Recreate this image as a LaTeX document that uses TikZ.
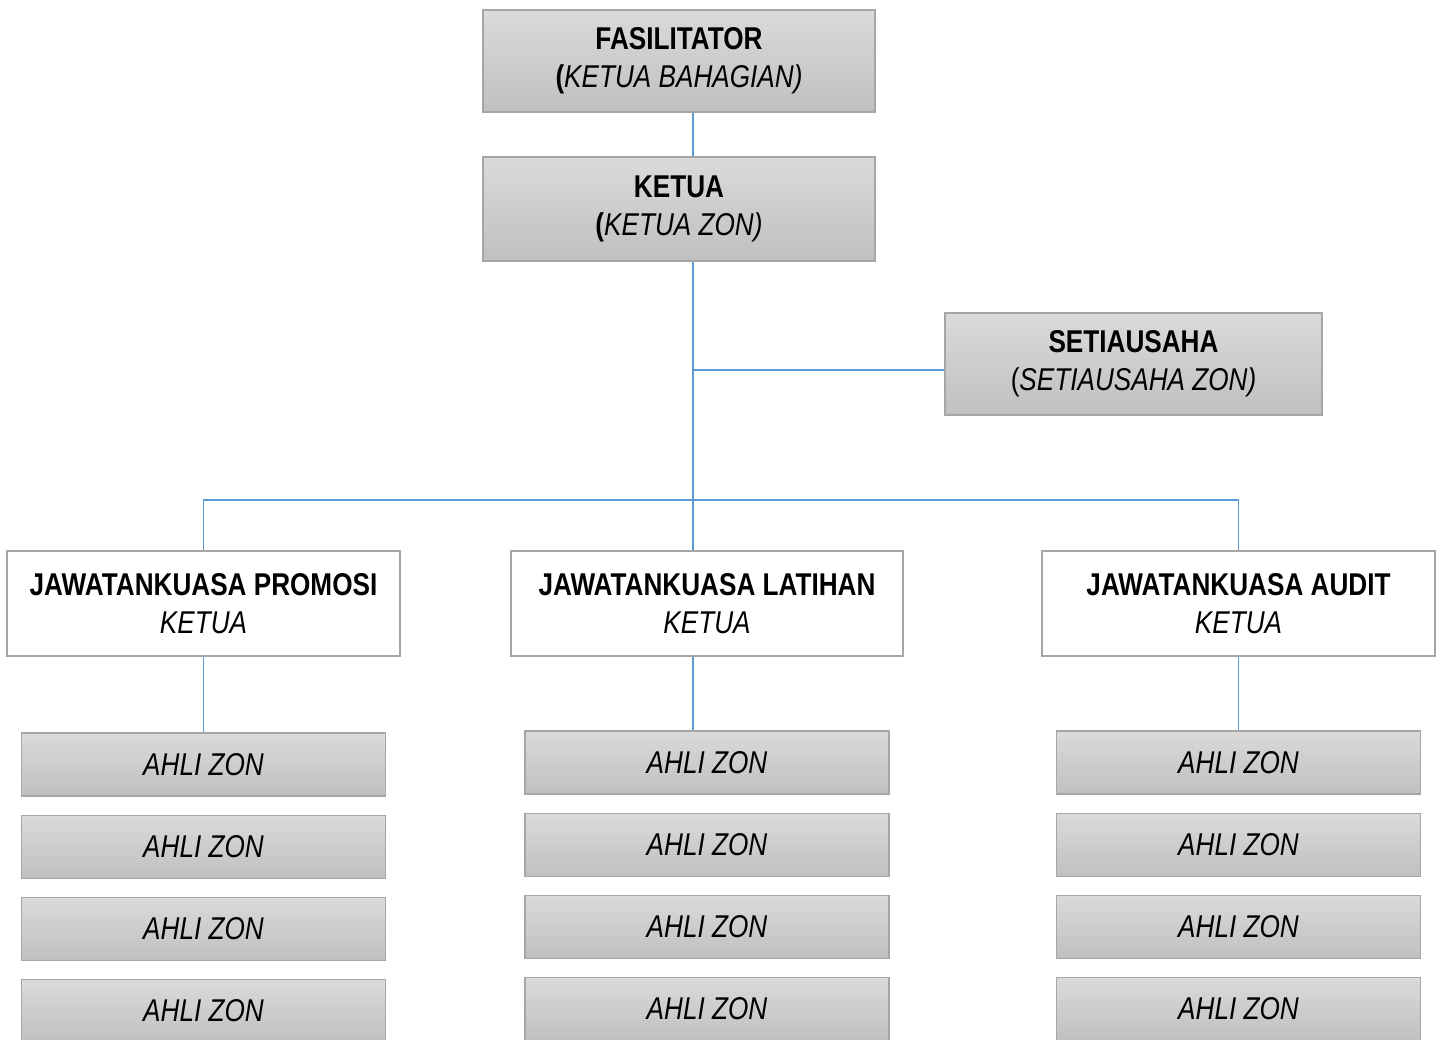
\documentclass[tikz,border=0pt]{standalone}
\usepackage{fontspec}
\setmainfont{Liberation Sans}[FakeStretch=0.83]
\definecolor{linkblue}{RGB}{91,155,213}
\definecolor{boxedge}{RGB}{166,166,166}
\definecolor{gtop}{RGB}{218,218,218}
\definecolor{gbot}{RGB}{192,192,192}
\tikzset{
  greybox/.style={draw=boxedge, line width=1.3pt, top color=gtop, bottom color=gbot,
    align=center, inner sep=0pt, font=\fontsize{31.5}{38}\selectfont},
  whitebox/.style={draw=boxedge, line width=2pt, fill=white,
    align=center, inner sep=0pt, font=\fontsize{31.5}{38}\selectfont},
  link/.style={draw=linkblue, line width=1.1pt}
}
\begin{document}
\begin{tikzpicture}[x=1pt,y=-1pt]
\useasboundingbox (0,0) rectangle (1439,1040);
\clip (0,0) rectangle (1439,1040);
\node[greybox, minimum width=392pt, minimum height=102pt] (fas) at (679,61) {\textbf{FASILITATOR}\\\textbf{(}\textit{KETUA BAHAGIAN)}};
\node[greybox, minimum width=392pt, minimum height=104pt] (ket) at (679,209) {\textbf{KETUA}\\\textbf{(}\textit{KETUA ZON)}};
\node[greybox, minimum width=377pt, minimum height=102pt] (set) at (1133.5,364) {\textbf{SETIAUSAHA}\\(\textit{SETIAUSAHA ZON)}};
\node[whitebox, minimum width=393pt, minimum height=105pt] (jp) at (203.5,603.5) {\textbf{JAWATANKUASA PROMOSI}\\\textit{KETUA}};
\node[whitebox, minimum width=392pt, minimum height=105pt] (jl) at (707,603.5) {\textbf{JAWATANKUASA LATIHAN}\\\textit{KETUA}};
\node[whitebox, minimum width=393pt, minimum height=105pt] (ja) at (1238.5,603.5) {\textbf{JAWATANKUASA AUDIT}\\\textit{KETUA}};
% AHLI ZON columns
\node[greybox, minimum width=364pt, minimum height=63pt] (p1) at (203.5,764.5) {\textit{AHLI ZON}};
\node[greybox, minimum width=364pt, minimum height=63pt] (p2) at (203.5,847) {\textit{AHLI ZON}};
\node[greybox, minimum width=364pt, minimum height=63pt] (p3) at (203.5,929) {\textit{AHLI ZON}};
\node[greybox, minimum width=364pt, minimum height=63pt] (p4) at (203.5,1011) {\textit{AHLI ZON}};
\node[greybox, minimum width=364pt, minimum height=63pt] (l1) at (707,762.5) {\textit{AHLI ZON}};
\node[greybox, minimum width=364pt, minimum height=63pt] (l2) at (707,845) {\textit{AHLI ZON}};
\node[greybox, minimum width=364pt, minimum height=63pt] (l3) at (707,927) {\textit{AHLI ZON}};
\node[greybox, minimum width=364pt, minimum height=63pt] (l4) at (707,1009) {\textit{AHLI ZON}};
\node[greybox, minimum width=364pt, minimum height=63pt] (a1) at (1238.5,762.5) {\textit{AHLI ZON}};
\node[greybox, minimum width=364pt, minimum height=63pt] (a2) at (1238.5,845) {\textit{AHLI ZON}};
\node[greybox, minimum width=364pt, minimum height=63pt] (a3) at (1238.5,927) {\textit{AHLI ZON}};
\node[greybox, minimum width=364pt, minimum height=63pt] (a4) at (1238.5,1009) {\textit{AHLI ZON}};
% connectors
\coordinate (trunk) at (693,0);
\coordinate (sj) at (693,370);
\coordinate (bus) at (693,500);
\draw[link] (fas.south -| trunk) -- (ket.north -| trunk);
\draw[link] (ket.south -| trunk) -- (jl.north -| trunk);
\draw[link] (sj) -- (sj -| set.west);
\draw[link] (jp.north) |- (bus) -| (ja.north);
\draw[link] (jp.south) -- (p1.north);
\draw[link] (jl.south -| trunk) -- (l1.north -| trunk);
\draw[link] (ja.south) -- (a1.north);
\end{tikzpicture}
\end{document}
